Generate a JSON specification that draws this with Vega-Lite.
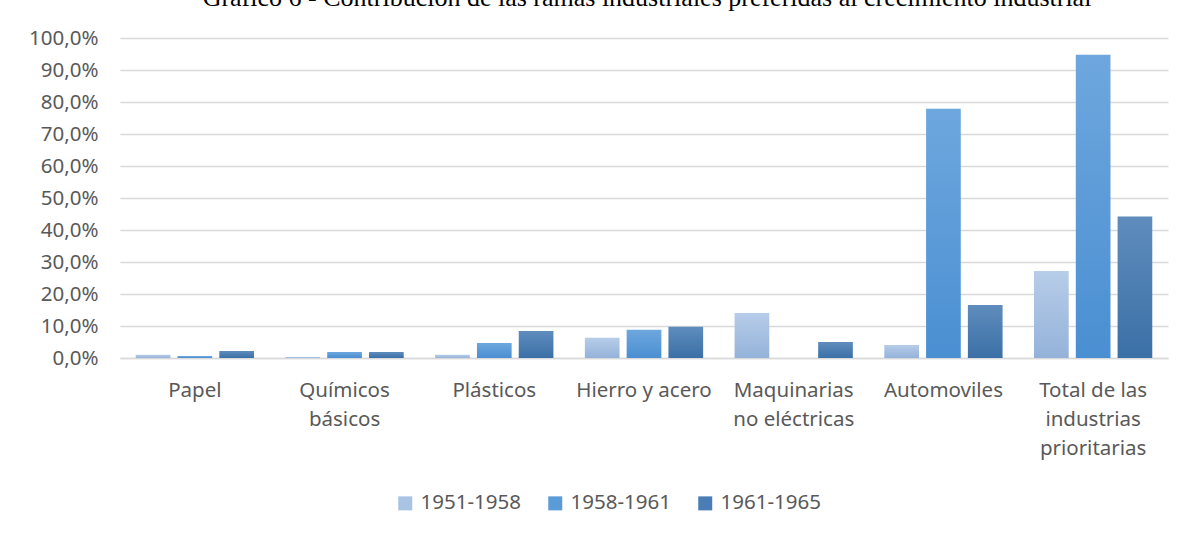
{
  "$schema": "https://vega.github.io/schema/vega-lite/v6.json",
  "width": 1048,
  "height": 320,
  "autosize": {"type": "none"},
  "padding": {"left": 120, "top": 38, "right": 18, "bottom": 175},
  "background": "white",
  "title": {
    "text": "Gráfico 6 - Contribución de las ramas industriales preferidas al crecimiento industrial",
    "font": "Liberation Serif",
    "fontSize": 26,
    "fontWeight": "normal",
    "color": "#000000",
    "anchor": "middle",
    "baseline": "alphabetic",
    "dx": 3,
    "dy": 7,
    "offset": 3
  },
  "data": {
    "values": [
      {"rama": "Papel", "periodo": "1951-1958", "valor": 1.0},
      {"rama": "Papel", "periodo": "1958-1961", "valor": 0.6},
      {"rama": "Papel", "periodo": "1961-1965", "valor": 2.2},
      {"rama": "Químicos básicos", "periodo": "1951-1958", "valor": 0.3},
      {"rama": "Químicos básicos", "periodo": "1958-1961", "valor": 1.9},
      {"rama": "Químicos básicos", "periodo": "1961-1965", "valor": 1.9},
      {"rama": "Plásticos", "periodo": "1951-1958", "valor": 1.0},
      {"rama": "Plásticos", "periodo": "1958-1961", "valor": 4.7},
      {"rama": "Plásticos", "periodo": "1961-1965", "valor": 8.4},
      {"rama": "Hierro y acero", "periodo": "1951-1958", "valor": 6.3},
      {"rama": "Hierro y acero", "periodo": "1958-1961", "valor": 8.8},
      {"rama": "Hierro y acero", "periodo": "1961-1965", "valor": 9.8},
      {"rama": "Maquinarias no eléctricas", "periodo": "1951-1958", "valor": 14.1},
      {"rama": "Maquinarias no eléctricas", "periodo": "1958-1961", "valor": 0.0},
      {"rama": "Maquinarias no eléctricas", "periodo": "1961-1965", "valor": 5.0},
      {"rama": "Automoviles", "periodo": "1951-1958", "valor": 4.1},
      {"rama": "Automoviles", "periodo": "1958-1961", "valor": 77.9},
      {"rama": "Automoviles", "periodo": "1961-1965", "valor": 16.6},
      {"rama": "Total de las industrias prioritarias", "periodo": "1951-1958", "valor": 27.2},
      {"rama": "Total de las industrias prioritarias", "periodo": "1958-1961", "valor": 94.8},
      {"rama": "Total de las industrias prioritarias", "periodo": "1961-1965", "valor": 44.2}
    ]
  },
  "encoding": {
    "x": {
      "field": "rama",
      "type": "nominal",
      "sort": null,
      "scale": {"paddingInner": 0.21, "paddingOuter": 0.105},
      "axis": {
        "title": null,
        "labelAngle": 0,
        "labelExpr": "datum.value == 'Químicos básicos' ? ['Químicos', 'básicos'] : datum.value == 'Maquinarias no eléctricas' ? ['Maquinarias', 'no eléctricas'] : datum.value == 'Total de las industrias prioritarias' ? ['Total de las', 'industrias', 'prioritarias'] : datum.value",
        "labelFont": "Noto Sans",
        "labelFontSize": 20.5,
        "labelColor": "#595959",
        "labelLineHeight": 29,
        "labelPadding": 22,
        "labelBaseline": "top",
        "ticks": false,
        "domain": true,
        "domainColor": "#d9d9d9",
        "domainWidth": 1.5
      }
    },
    "xOffset": {
      "field": "periodo",
      "type": "nominal",
      "scale": {"domain": ["1951-1958", "1958-1961", "1961-1965"], "paddingInner": 0.17}
    },
    "y": {
      "field": "valor",
      "type": "quantitative",
      "scale": {"domain": [0, 100], "nice": false},
      "axis": {
        "title": null,
        "values": [0, 10, 20, 30, 40, 50, 60, 70, 80, 90, 100],
        "labelExpr": "replace(format(datum.value, '.1f'), '.', ',') + '%'",
        "labelFont": "Noto Sans",
        "labelFontSize": 20.5,
        "labelColor": "#595959",
        "labelPadding": 22,
        "ticks": false,
        "domain": false,
        "grid": true,
        "gridColor": "#d9d9d9",
        "gridWidth": 1.5
      }
    }
  },
  "layer": [
    {
      "mark": {"type": "bar", "opacity": 0},
      "encoding": {
        "color": {
          "field": "periodo",
          "type": "nominal",
          "scale": {
            "domain": ["1951-1958", "1958-1961", "1961-1965"],
            "range": ["#a9c3e5", "#5a9bd8", "#4a7db5"]
          },
          "legend": {
            "title": null,
            "orient": "none",
            "legendX": 275,
            "legendY": 455,
            "direction": "horizontal",
            "symbolType": "square",
            "symbolSize": 196,
            "symbolStrokeWidth": 0,
            "symbolOpacity": 1,
            "labelFont": "Noto Sans",
            "labelFontSize": 20.5,
            "labelColor": "#595959",
            "columnPadding": 24,
            "labelOffset": 5
          }
        }
      }
    },
    {
      "transform": [{"filter": "datum.periodo == '1951-1958'"}],
      "mark": {"type": "bar", "color": {"gradient": "linear", "x1": 0, "y1": 0, "x2": 0, "y2": 1, "stops": [{"offset": 0, "color": "#b7cde9"}, {"offset": 1, "color": "#94b2d9"}]}}
    },
    {
      "transform": [{"filter": "datum.periodo == '1958-1961'"}],
      "mark": {"type": "bar", "color": {"gradient": "linear", "x1": 0, "y1": 0, "x2": 0, "y2": 1, "stops": [{"offset": 0, "color": "#6ea7de"}, {"offset": 1, "color": "#4a8fd2"}]}}
    },
    {
      "transform": [{"filter": "datum.periodo == '1961-1965'"}],
      "mark": {"type": "bar", "color": {"gradient": "linear", "x1": 0, "y1": 0, "x2": 0, "y2": 1, "stops": [{"offset": 0, "color": "#5f8cbd"}, {"offset": 1, "color": "#3b70a6"}]}}
    }
  ],
  "config": {
    "view": {"stroke": null}
  }
}
